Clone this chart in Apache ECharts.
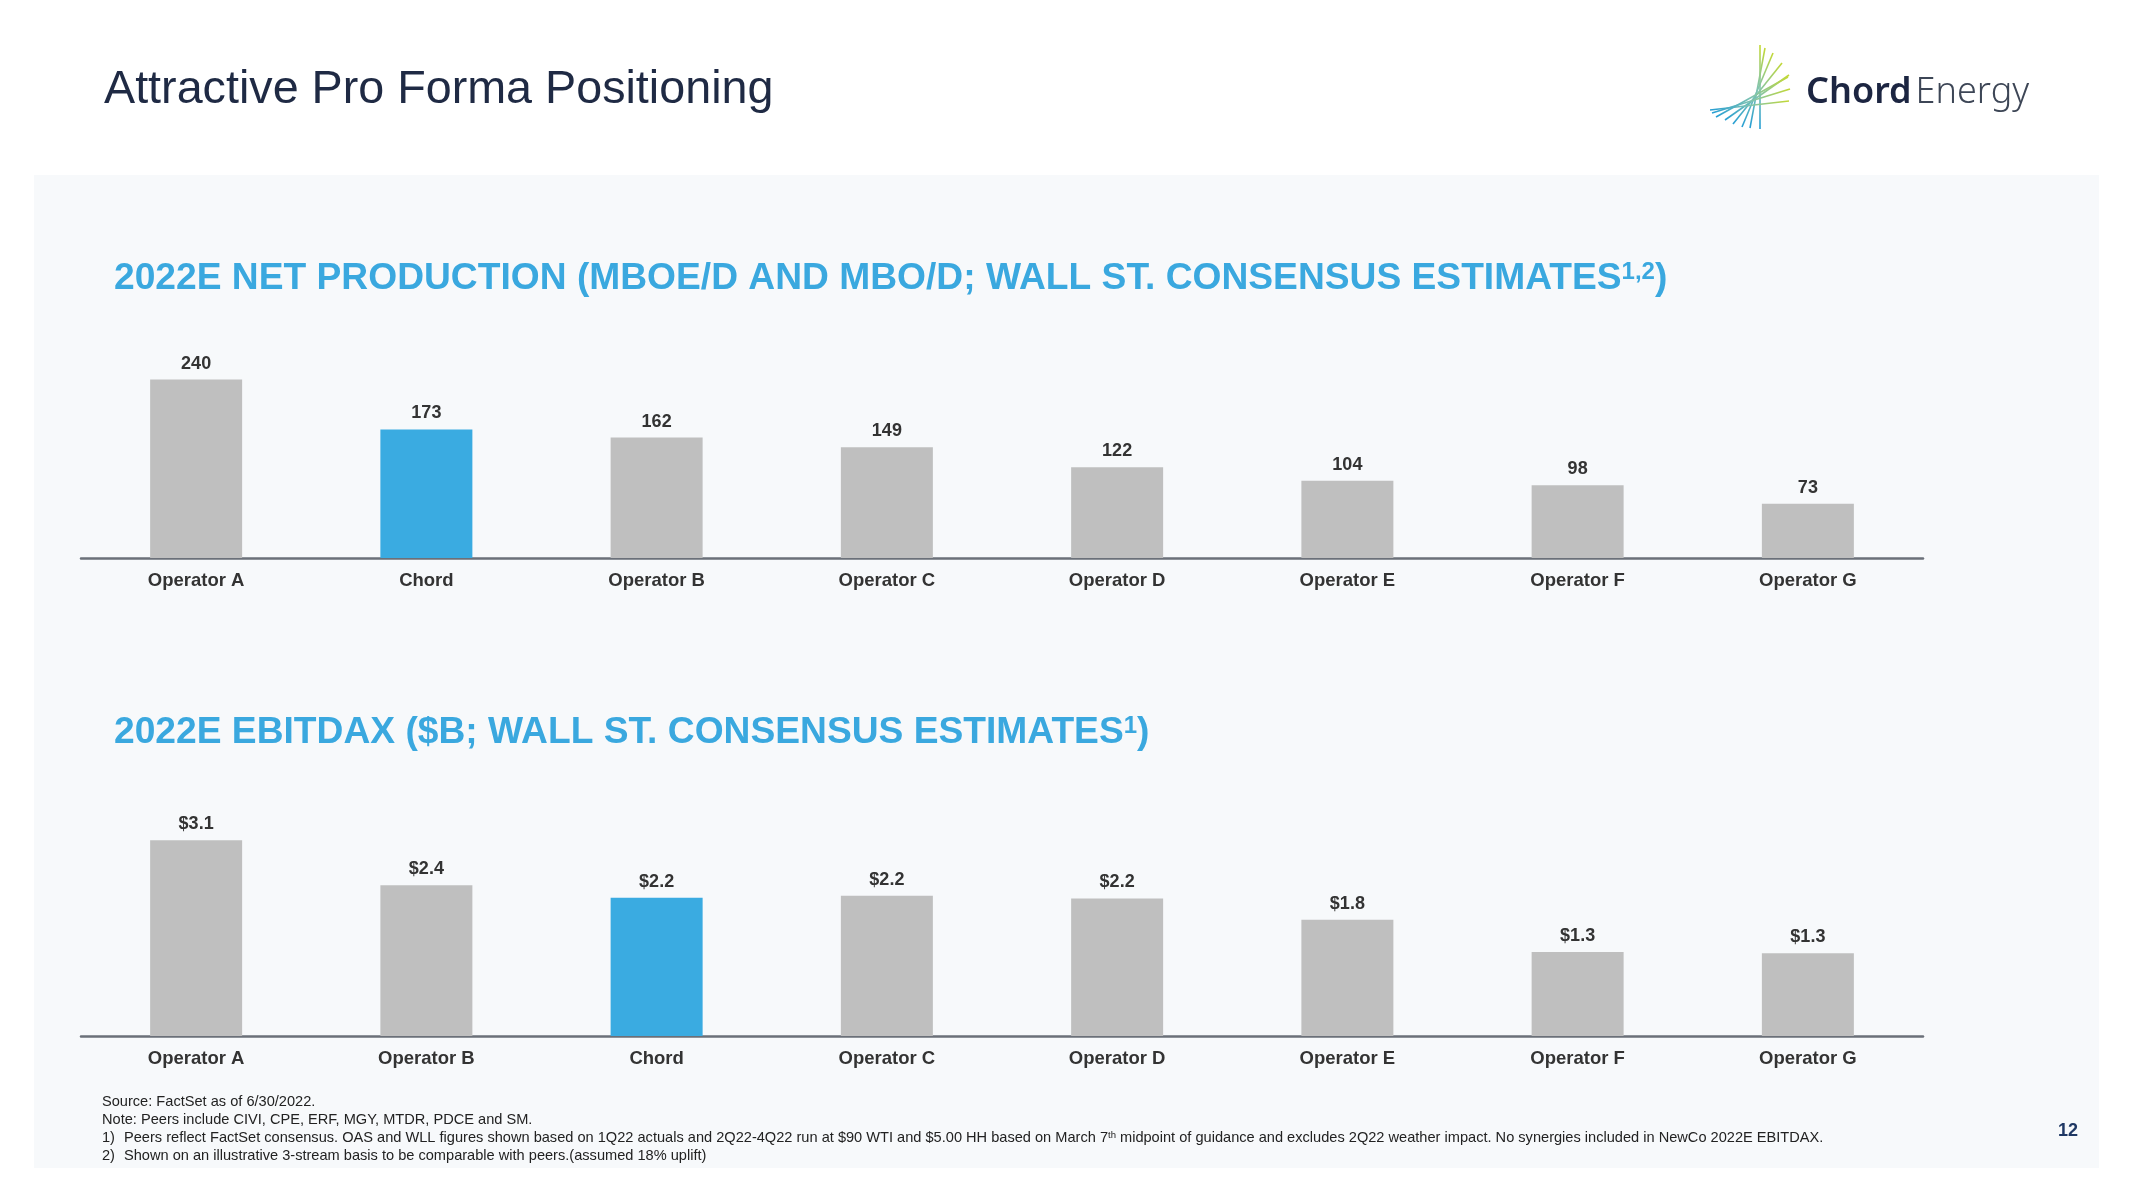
<!DOCTYPE html>
<html>
<head>
<meta charset="utf-8">
<script src="https://cdn.jsdelivr.net/npm/echarts@6/dist/echarts.min.js"></script>
<style>
html,body{margin:0;padding:0;background:#fff;}
#c{width:2133px;height:1200px;}
</style>
</head>
<body>
<div id="c"></div>
<script>
// ---- data ----
const prodCategories = ['Operator A','Chord','Operator B','Operator C','Operator D','Operator E','Operator F','Operator G'];
const prodValues = [240,173,162,149,122,104,98,73];
const ebitdaxCategories = ['Operator A','Operator B','Chord','Operator C','Operator D','Operator E','Operator F','Operator G'];
const ebitdaxValues = [3.1,2.39,2.19,2.22,2.18,1.84,1.33,1.31];
const highlightName = 'Chord';

const GRAY = '#BFBFBF', BLUE = '#3AABE1', TXT = '#333333';
const FONT = '"Liberation Sans", Arial, Helvetica, sans-serif';

const chart = echarts.init(document.getElementById('c'));

function colorFor(cats){
  return p => cats[p.dataIndex] === highlightName ? BLUE : GRAY;
}
function xAxisCfg(idx, cats){
  return {
    type:'category', gridIndex:idx, data:cats,
    axisLine:{show:true,lineStyle:{color:'#6B7079',width:2.5}},
    axisTick:{show:false},
    axisLabel:{color:TXT,fontFamily:FONT,fontWeight:'bold',fontSize:18.5,margin:13}
  };
}
function yAxisCfg(idx, max){
  return {type:'value',gridIndex:idx,min:0,max:max,show:false,splitLine:{show:false}};
}

// logo lines
const logoLines = [
  [1760,45,1760,129],[1765,48,1750,128],[1773,53,1742,127],[1782,63,1733,124],[1789,75,1725,120],
  [1710,110,1789,101],[1712,113,1790,89],[1716,117,1788,77]
];
const logoGraphics = logoLines.map(l => ({
  type:'line', shape:{x1:l[0],y1:l[1],x2:l[2],y2:l[3]},
  style:{lineWidth:1.6, stroke:new echarts.graphic.LinearGradient(0,1,1,0,[{offset:0,color:'#1E9BD7'},{offset:0.5,color:'#7FC3B0'},{offset:1,color:'#C8DA2B'}])},
  silent:true
}));

const subTitleRich = {
  m:{fontFamily:FONT,fontWeight:'bold',fontSize:37.2,fill:'#3AA8DF'},
  s:{fontFamily:FONT,fontWeight:'bold',fontSize:24,fill:'#3AA8DF',verticalAlign:'top',padding:[0,0,12,0]}
};
const FN = 14.6;
const fnRich = {
  n:{fontFamily:FONT,fontSize:FN,fill:'#222'},
  s:{fontFamily:FONT,fontSize:9.5,fill:'#222',padding:[0,0,6,0]}
};

chart.setOption({
  animation:false,
  backgroundColor:'#ffffff',
  graphic:[
    {type:'rect',shape:{x:34,y:175,width:2065,height:993},style:{fill:'#F7F9FB'},z:-10,silent:true},
    {type:'text',style:{x:104,y:90,text:'Attractive Pro Forma Positioning',fontFamily:FONT,fontSize:46.7,fill:'#1F2A44',verticalAlign:'middle'}},
    {type:'text',style:{x:1806,y:93,text:'{b|Chord}{l|Energy}',verticalAlign:'middle',
      rich:{b:{fontFamily:'"Noto Sans", "Open Sans", sans-serif',fontWeight:600,fontSize:36,fill:'#1C2541'},
            l:{fontFamily:'"Noto Sans", "Open Sans", sans-serif',fontWeight:300,fontSize:36,fill:'#3D4656',padding:[0,0,0,4]}}}},
    ...logoGraphics,
    {type:'text',style:{x:114,y:279,verticalAlign:'middle',
      text:'{m|2022E NET PRODUCTION (MBOE/D AND MBO/D; WALL ST. CONSENSUS ESTIMATES}{s|1,2}{m|)}',rich:subTitleRich}},
    {type:'text',style:{x:114,y:733,verticalAlign:'middle',
      text:'{m|2022E EBITDAX ($B; WALL ST. CONSENSUS ESTIMATES}{s|1}{m|)}',rich:subTitleRich}},
    {type:'text',style:{x:102,y:1102,verticalAlign:'middle',text:'Source: FactSet as of 6/30/2022.',fontFamily:FONT,fontSize:FN,fill:'#222'}},
    {type:'text',style:{x:102,y:1120,verticalAlign:'middle',text:'Note: Peers include CIVI, CPE, ERF, MGY, MTDR, PDCE and SM.',fontFamily:FONT,fontSize:FN,fill:'#222'}},
    {type:'text',style:{x:102,y:1138,verticalAlign:'middle',text:'1)',fontFamily:FONT,fontSize:FN,fill:'#222'}},
    {type:'text',style:{x:124,y:1138,verticalAlign:'middle',
      text:'{n|Peers reflect FactSet consensus. OAS and WLL figures shown based on 1Q22 actuals and 2Q22-4Q22 run at $90 WTI and $5.00 HH based on March 7}{s|th}{n| midpoint of guidance and excludes 2Q22 weather impact. No synergies included in NewCo 2022E EBITDAX.}',rich:fnRich}},
    {type:'text',style:{x:102,y:1156,verticalAlign:'middle',text:'2)',fontFamily:FONT,fontSize:FN,fill:'#222'}},
    {type:'text',style:{x:124,y:1156,verticalAlign:'middle',text:'Shown on an illustrative 3-stream basis to be comparable with peers.(assumed 18% uplift)',fontFamily:FONT,fontSize:FN,fill:'#222'}},
    {type:'text',style:{x:2068,y:1131,align:'center',verticalAlign:'middle',text:'12',fontFamily:FONT,fontWeight:'bold',fontSize:18,fill:'#1F3864'}}
  ],
  grid:[
    {left:81,width:1842,top:335,height:223},
    {left:81,width:1842,top:783.5,height:252.5}
  ],
  xAxis:[xAxisCfg(0,prodCategories),xAxisCfg(1,ebitdaxCategories)],
  yAxis:[yAxisCfg(0,300),yAxisCfg(1,4)],
  series:[
    {type:'bar',xAxisIndex:0,yAxisIndex:0,data:prodValues,barWidth:92,
     itemStyle:{color:colorFor(prodCategories)},
     label:{show:true,position:'top',distance:7,color:TXT,fontFamily:FONT,fontWeight:'bold',fontSize:18,
       formatter:p=>String(p.value)}},
    {type:'bar',xAxisIndex:1,yAxisIndex:1,data:ebitdaxValues,barWidth:92,
     itemStyle:{color:colorFor(ebitdaxCategories)},
     label:{show:true,position:'top',distance:7,color:TXT,fontFamily:FONT,fontWeight:'bold',fontSize:18,
       formatter:p=>'$'+p.value.toFixed(1)}}
  ]
});
</script>
</body>
</html>
